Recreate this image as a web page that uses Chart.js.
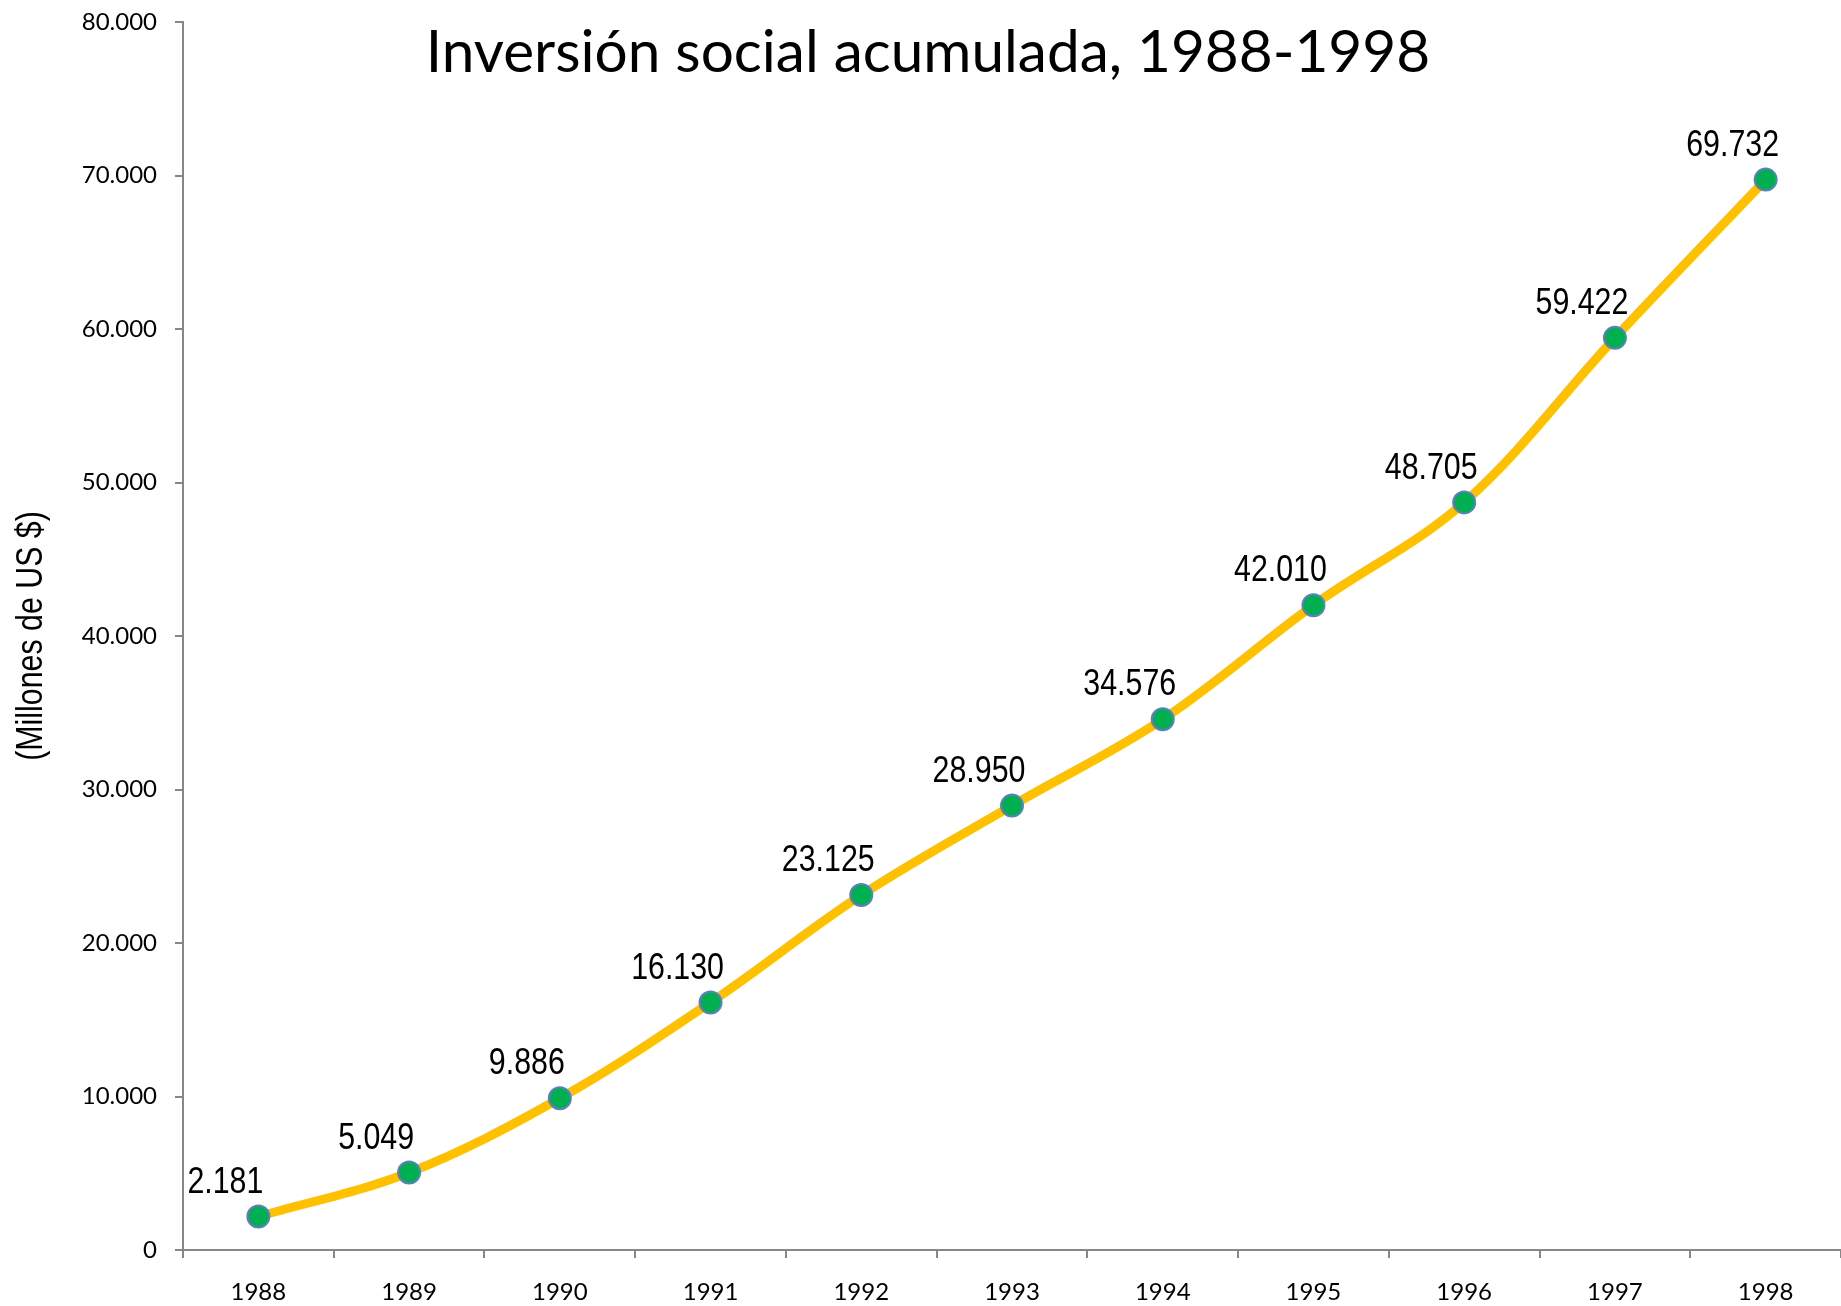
<!DOCTYPE html>
<html>
<head>
<meta charset="utf-8">
<script src="https://cdn.jsdelivr.net/npm/chart.js@4"></script>
<style>
  html, body { margin: 0; padding: 0; background: #ffffff; }
  canvas { display: block; }
</style>
</head>
<body>
<canvas id="c" width="1841" height="1306"></canvas>
<script>
const categories = ['1988','1989','1990','1991','1992','1993','1994','1995','1996','1997','1998'];
const values = [2181, 5049, 9886, 16130, 23125, 28950, 34576, 42010, 48705, 59422, 69732];
const yTicks = [0, 10000, 20000, 30000, 40000, 50000, 60000, 70000, 80000];
const titleText = 'Inversión social acumulada, 1988-1998';
const yTitle = '(Millones de US $)';

function fmt(v) {
  return String(Math.round(v)).replace(/\B(?=(\d{3})+(?!\d))/g, '.');
}

const AXIS = '#878787';
const ARIAL = '"Liberation Sans", Arial, sans-serif';
const CAL = 'Lato, Carlito, Calibri, sans-serif';
const NARROW_SCALE = 0.82;

const titlePlugin = {
  id: 'freeTitle',
  afterDraw(chart) {
    const ctx = chart.ctx;
    ctx.save();
    ctx.font = '58.5px ' + CAL;
    ctx.fillStyle = '#000';
    ctx.textAlign = 'center';
    ctx.textBaseline = 'alphabetic';
    ctx.fillText(titleText, 928, 72);
    ctx.restore();

    // vertical axis title (narrow face emulated by horizontal compression)
    const ya = chart.scales.y;
    ctx.save();
    ctx.translate(32, (ya.top + ya.bottom) / 2);
    ctx.rotate(-Math.PI / 2);
    ctx.scale(NARROW_SCALE, 1);
    ctx.font = '37px ' + ARIAL;
    ctx.fillStyle = '#000';
    ctx.textAlign = 'center';
    ctx.textBaseline = 'middle';
    ctx.fillText(yTitle, 0, 0);
    ctx.restore();
  }
};

const labelPlugin = {
  id: 'valueLabels',
  afterDatasetsDraw(chart) {
    const ctx = chart.ctx;
    const meta = chart.getDatasetMeta(0);
    meta.data.forEach((pt, i) => {
      ctx.save();
      ctx.translate(pt.x - 33, pt.y - 34);
      ctx.scale(NARROW_SCALE, 1);
      ctx.font = '37px ' + ARIAL;
      ctx.fillStyle = '#000';
      ctx.textAlign = 'center';
      ctx.textBaseline = 'middle';
      ctx.fillText(fmt(values[i]), 0, 0);
      ctx.restore();
    });
  }
};

new Chart(document.getElementById('c'), {
  type: 'line',
  data: {
    labels: categories,
    datasets: [{
      data: values,
      borderColor: '#FFC000',
      borderWidth: 9,
      tension: 0.35,
      pointRadius: 11,
      pointBackgroundColor: '#00B050',
      pointBorderColor: '#5B7FBF',
      pointBorderWidth: 2,
      fill: false
    }]
  },
  options: {
    responsive: false,
    animation: false,
    devicePixelRatio: 1,
    layout: { autoPadding: false, padding: { top: 22, right: 0, left: 0, bottom: 0 } },
    plugins: {
      legend: { display: false },
      tooltip: { enabled: false },
      title: { display: false }
    },
    scales: {
      x: {
        type: 'category',
        offset: true,
        grid: { display: true, offset: true, drawOnChartArea: false, drawTicks: true, tickLength: 8, color: AXIS, lineWidth: 2 },
        border: { display: true, color: AXIS, width: 2 },
        ticks: { color: '#000', font: { family: CAL, size: 24 }, padding: 20, maxRotation: 0, autoSkip: false },
        afterFit(scale) { scale.height = 56; scale.paddingLeft = 0; scale.paddingRight = 0; }
      },
      y: {
        min: 0,
        max: 80000,
        afterBuildTicks(scale) { scale.ticks = yTicks.map(v => ({ value: v })); },
        grid: { display: true, drawOnChartArea: false, drawTicks: true, tickLength: 8, color: AXIS, lineWidth: 2 },
        border: { display: true, color: AXIS, width: 2 },
        ticks: { color: '#000', font: { family: CAL, size: 24 }, padding: 18, callback: v => fmt(v) },
        title: { display: false },
        afterFit(scale) { scale.width = 183; scale.paddingTop = 0; scale.paddingBottom = 0; }
      }
    }
  },
  plugins: [titlePlugin, labelPlugin]
});
</script>
</body>
</html>
